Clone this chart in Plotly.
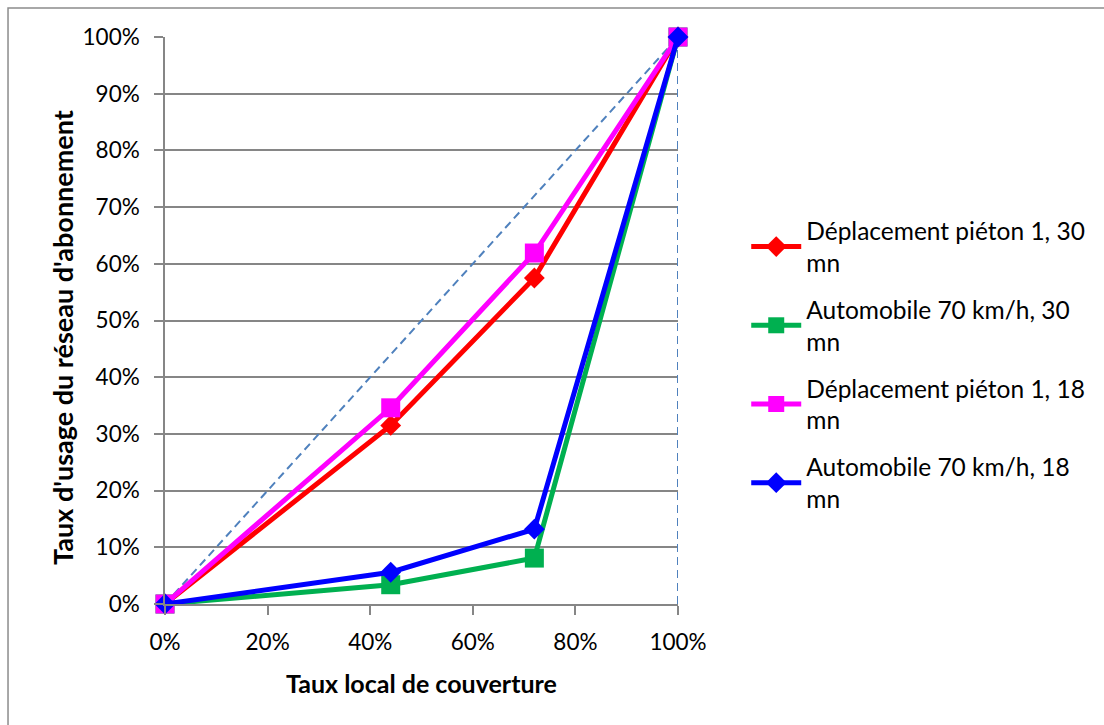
import plotly.graph_objects as go

# Coverage rate (x) at each measurement point
coverage = [0.0, 0.44, 0.72, 1.0]

# Usage rate of the subscription network for each scenario
pieton_30 = [0.0, 0.315, 0.575, 1.0]
auto_30 = [0.0, 0.034, 0.081, 1.0]
pieton_18 = [0.0, 0.346, 0.619, 1.0]
auto_18 = [0.0, 0.056, 0.132, 1.0]

series_names = [
    "Déplacement piéton 1, 30<br>mn",
    "Automobile 70 km/h, 30<br>mn",
    "Déplacement piéton 1, 18<br>mn",
    "Automobile 70 km/h, 18<br>mn",
]

# Reference lines: equality diagonal and full-coverage vertical
diag_x = [0.0, 1.0]
diag_y = [0.0, 1.0]
full_x = [1.0, 1.0]
full_y = [0.0, 1.0]

tick_vals_y = [i / 10 for i in range(11)]
tick_text_y = [f"{i * 10}%" for i in range(11)]
tick_vals_x = [i / 5 for i in range(6)]
tick_text_x = [f"{i * 20}%" for i in range(6)]

FONT = "Lato"
ref_color = "#4F81BD"
axis_gray = "#868686"

fig = go.Figure()

for rx, ry in ((diag_x, diag_y), (full_x, full_y)):
    fig.add_trace(go.Scatter(x=rx, y=ry, mode="lines", showlegend=False,
                             line=dict(color=ref_color, width=2, dash="8px,5px"),
                             hoverinfo="skip"))

styles = [
    (pieton_30, "#FF0000", "diamond", 16),
    (auto_30, "#00B050", "square", 19),
    (pieton_18, "#FF00FF", "square", 19),
    (auto_18, "#0000FF", "diamond", 16),
]

for name, (vals, color, symbol, size) in zip(series_names, styles):
    fig.add_trace(go.Scatter(
        x=coverage, y=vals, mode="lines+markers", name=name,
        line=dict(color=color, width=5),
        marker=dict(symbol=symbol, size=size, color=color),
        cliponaxis=False, legendgroup=name,
    ))

fig.update_layout(
    width=1104, height=725,
    margin=dict(l=165, r=426, t=37, b=121),
    paper_bgcolor="white", plot_bgcolor="white",
    font=dict(family=FONT, size=22, color="#000000"),
    showlegend=True,
    legend=dict(
        x=1.133, y=0.698, xanchor="left", yanchor="top",
        font=dict(family=FONT, size=24.5, color="#000000"),
        traceorder="grouped", tracegroupgap=12,
        itemwidth=50, bgcolor="rgba(0,0,0,0)",
    ),
    xaxis=dict(
        range=[0, 1], tickvals=tick_vals_x, ticktext=tick_text_x,
        showgrid=False, zeroline=False,
        showline=True, linecolor=axis_gray, linewidth=1.5,
        ticks="outside", ticklen=9, tickcolor=axis_gray, tickwidth=1.5,
        ticklabelstandoff=8,
        tickfont=dict(family=FONT, size=22.5),
    ),
    yaxis=dict(
        range=[0, 1], tickvals=tick_vals_y, ticktext=tick_text_y,
        showgrid=True, gridcolor=axis_gray, gridwidth=1.5, zeroline=False,
        showline=True, linecolor=axis_gray, linewidth=1.5,
        ticks="outside", ticklen=9, tickcolor=axis_gray, tickwidth=1.5,
        ticklabelstandoff=10,
        tickfont=dict(family=FONT, size=22.5),
    ),
    annotations=[
        dict(text="<b>Taux local de couverture</b>", xref="paper", yref="paper",
             x=0.5, y=-0.14, xanchor="center", yanchor="middle",
             showarrow=False, font=dict(family=FONT, size=25)),
        dict(text="<b>Taux d'usage du réseau d'abonnement</b>", xref="paper",
             yref="paper", x=-0.2, y=0.47, xanchor="center", yanchor="middle",
             textangle=-90, showarrow=False, font=dict(family=FONT, size=27)),
    ],
    shapes=[
        dict(type="rect", xref="paper", yref="paper",
             x0=-0.306, y0=-2, x1=3, y1=1.051,
             line=dict(color="#8C8C8C", width=1.5), layer="below"),
    ],
)

fig.write_html("out.html")
